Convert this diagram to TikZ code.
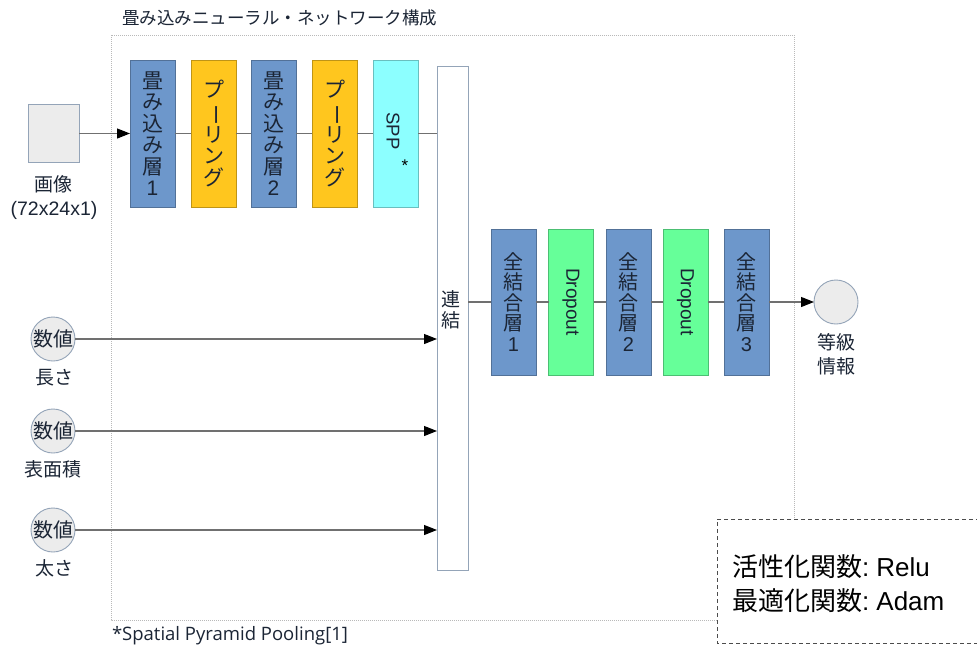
\documentclass[tikz,border=0pt]{standalone}
\usepackage{fontspec}
\setmainfont{Liberation Sans}
\newfontfamily\jp{Noto Sans CJK JP}
\newfontfamily\osans{Open Sans}
\usetikzlibrary{arrows.meta}
\definecolor{convc}{HTML}{6D97CB}
\definecolor{poolc}{HTML}{FFC61E}
\definecolor{sppc}{HTML}{8CFFFF}
\definecolor{dropc}{HTML}{66FF99}
\definecolor{txtc}{HTML}{1B2535}
\definecolor{linec}{HTML}{707070}
\definecolor{edgec}{HTML}{94A4B8}
\definecolor{greyfill}{HTML}{ECECEC}
\begin{document}
\begin{tikzpicture}[x=1pt,y=-1pt,
  every node/.style={inner sep=0pt, outer sep=0pt},
  layerbox/.style={draw=#1!75!black, fill=#1, line width=0.8pt, minimum width=45pt, align=center, text=txtc},
  toprow/.style={minimum height=147pt},
  fcrow/.style={minimum height=146pt},
  vjp/.style={font=\jp\fontsize{21}{21.5}\selectfont},
  vlat/.style={font=\fontsize{19}{21}\selectfont},
  conn/.style={draw=linec, line width=1.1pt},
  arr/.style={conn, -{Triangle[length=13pt,width=10pt,color=black,fill=black]}},
  lab/.style={font=\jp\fontsize{19}{24}\selectfont, text=txtc, align=center},
  roundin/.style={circle, draw=edgec, fill=greyfill, line width=0.9pt, minimum size=44pt, text=txtc},
]
\useasboundingbox (0,0) rectangle (977,649);
\fill[white] (0,0) rectangle (977,649);

% frame
\draw[gray!55, line width=0.9pt, dash pattern=on 1pt off 1pt] (111,35) rectangle (794,620);
\node[font=\jp\fontsize{17.5}{20}\selectfont, text=txtc, anchor=west] (title) at (122,18) {畳み込みニューラル・ネットワーク構成};

% image input
\node[draw=edgec, fill=greyfill, line width=0.9pt, minimum width=51pt, minimum height=58pt] (img) at (53.5,133.5) {};
\node[lab, anchor=north] (imglab) at (54,176) {画像\\{\rmfamily\fontsize{19.5}{22}\selectfont (72x24x1)}};

% top row
\node[layerbox=convc, toprow, vjp] (conv1) at (152.5,133.5) {畳\\み\\込\\み\\層\\{\rmfamily 1}};
\node[layerbox=poolc, toprow, vjp] (pool1) at (213.5,133.5) {プ\\\rotatebox[origin=c]{-90}{ー}\\リ\\ン\\グ};
\node[layerbox=convc, toprow, vjp] (conv2) at (273.5,133.5) {畳\\み\\込\\み\\層\\{\rmfamily 2}};
\node[layerbox=poolc, toprow, vjp] (pool2) at (334.5,133.5) {プ\\\rotatebox[origin=c]{-90}{ー}\\リ\\ン\\グ};
\node[layerbox=sppc, toprow] (spp) at (395.5,133.5) {};
\node[font=\fontsize{18.5}{20}\selectfont, text=txtc] (spplab) at (393,131) {\rotatebox{-90}{SPP}};
\node[font=\fontsize{17}{20}\selectfont, text=black] (star) at (405,166) {*};

% concat
\node[draw=edgec, fill=white, line width=0.9pt, minimum width=31pt, minimum height=504pt] (concat) at (452.5,318) {};
\node[lab, font=\jp\fontsize{19}{21}\selectfont] (concatlab) at (451,310) {連\\結};

% fully connected row
\node[layerbox=convc, fcrow, font=\jp\fontsize{20}{20.5}\selectfont] (fc1) at (513.5,302) {全\\結\\合\\層\\{\rmfamily 1}};
\node[layerbox=dropc, fcrow, vlat] (drop1) at (571,302) {\rotatebox{-90}{Dropout}};
\node[layerbox=convc, fcrow, font=\jp\fontsize{20}{20.5}\selectfont] (fc2) at (628.5,302) {全\\結\\合\\層\\{\rmfamily 2}};
\node[layerbox=dropc, fcrow, vlat] (drop2) at (685.5,302) {\rotatebox{-90}{Dropout}};
\node[layerbox=convc, fcrow, font=\jp\fontsize{20}{20.5}\selectfont] (fc3) at (746.5,302) {全\\結\\合\\層\\{\rmfamily 3}};

% output
\node[roundin] (out) at (836,302) {};
\node[lab, anchor=north] (outlab) at (836,333) {等級\\情報};

% numeric inputs
\node[roundin, font=\jp\fontsize{20}{22}\selectfont] (n1) at (53,339) {数値};
\node[lab, anchor=north] (n1lab) at (54,369) {長さ};
\node[roundin, font=\jp\fontsize{20}{22}\selectfont] (n2) at (53,431) {数値};
\node[lab, anchor=north] (n2lab) at (53,461) {表面積};
\node[roundin, font=\jp\fontsize{20}{22}\selectfont] (n3) at (53,530) {数値};
\node[lab, anchor=north] (n3lab) at (54,560) {太さ};

% connectors top row
\draw[arr] (img) -- (conv1);
\draw[conn] (conv1) -- (pool1);
\draw[conn] (pool1) -- (conv2);
\draw[conn] (conv2) -- (pool2);
\draw[conn] (pool2) -- (spp);
\draw[conn] (spp.east) -- (spp.east -| concat.west);

% numeric arrows
\draw[arr] (n1) -- (n1 -| concat.west);
\draw[arr] (n2) -- (n2 -| concat.west);
\draw[arr] (n3) -- (n3 -| concat.west);

% fc row
\draw[conn] (concat.east |- fc1) -- (fc1);
\draw[conn] (fc1) -- (drop1);
\draw[conn] (drop1) -- (fc2);
\draw[conn] (fc2) -- (drop2);
\draw[conn] (drop2) -- (fc3);
\draw[arr] (fc3) -- (out);

% footnote
\node[font=\osans\fontsize{18.5}{22}\selectfont, text=txtc, anchor=west] (foot) at (112,636) {*Spatial Pyramid Pooling[1]};

% settings box
\fill[white] (717,519) rectangle (980,643);
\draw[black!70, line width=1pt, dash pattern=on 4pt off 3pt] (980,519) -- (717,519) -- (717,643) -- (980,643);
\node[font=\fontsize{26}{34}\selectfont, text=black, align=left, anchor=west] (settings) at (732,584)
  {{\jp 活性化関数}:~Relu\\{\jp 最適化関数}:~Adam};
\end{tikzpicture}
\end{document}
